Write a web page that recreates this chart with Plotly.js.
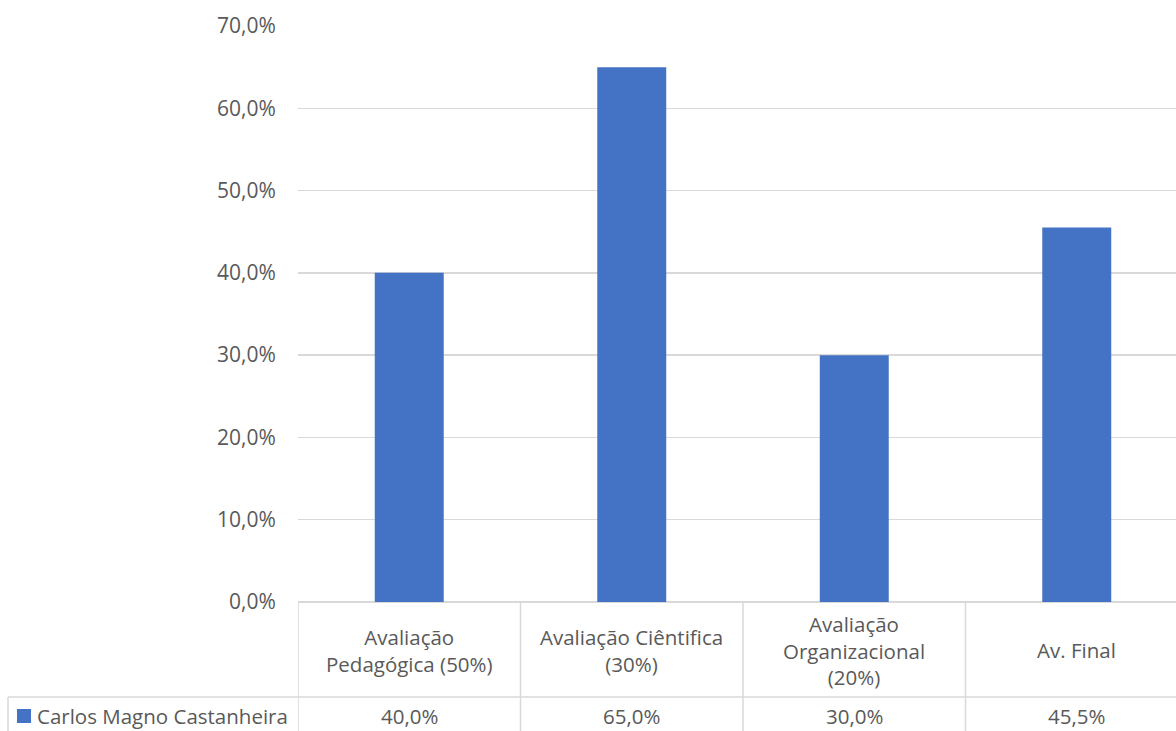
<!DOCTYPE html>
<html><head><meta charset="utf-8">
<script src="https://cdn.plot.ly/plotly-3.0.1.min.js"></script>
<style>html,body{margin:0;padding:0;overflow:hidden;background:#fff}</style>
</head><body><div id="chart"></div>
<script>
const categories = ["Avaliação<br>Pedagógica (50%)", "Avaliação Ciêntifica<br>(30%)", "Avaliação<br>Organizacional<br>(20%)", "Av. Final"];
const seriesName = "Carlos Magno Castanheira";
const values = [0.40, 0.65, 0.30, 0.455];
const tickVals = [0, 0.1, 0.2, 0.3, 0.4, 0.5, 0.6, 0.7];
const tickText = ["0,0%", "10,0%", "20,0%", "30,0%", "40,0%", "50,0%", "60,0%", "70,0%"];
const valueLabels = ["40,0%", "65,0%", "30,0%", "45,5%"];

const W = 1188, H = 731, L = 298, T = 26, B = 129;
const pw = W - L, ph = H - T - B;
const py = px => (H - B - px) / ph;          // pixel y -> paper y
const pxX = px => (px - L) / pw;            // pixel x -> paper x
const font = "Open Sans, Noto Sans, sans-serif";
const grey = "#595959", lineC = "#d9d9d9", blue = "#4472c4";
const idx = categories.map((c, i) => i);
const fs = 20.5;

const shapes = [];
for (let i = 0; i <= categories.length; i++) {
  shapes.push({type: "line", xref: "x", yref: "paper", x0: i - 0.5, x1: i - 0.5, y0: 0, y1: py(H + 5), line: {color: lineC, width: 1.5}});
}
shapes.push({type: "line", xref: "paper", yref: "paper", x0: pxX(8), x1: 1, y0: py(697), y1: py(697), line: {color: lineC, width: 1.5}});
shapes.push({type: "line", xref: "paper", yref: "paper", x0: pxX(8), x1: pxX(8), y0: py(697), y1: py(H + 5), line: {color: lineC, width: 1.5}});
shapes.push({type: "rect", xref: "paper", yref: "paper", x0: pxX(17), x1: pxX(31), y0: py(709), y1: py(723), fillcolor: blue, line: {width: 0}});

const annotations = [];
categories.forEach((c, i) => {
  annotations.push({x: i, xref: "x", y: py(650), yref: "paper", text: c, showarrow: false, align: "center", font: {family: font, size: fs, color: grey}, yanchor: "middle"});
  annotations.push({x: i, xref: "x", y: py(716), yref: "paper", text: valueLabels[i], showarrow: false, font: {family: font, size: fs, color: grey}, yanchor: "middle"});
});
annotations.push({x: pxX(35), xref: "paper", y: py(716), yref: "paper", text: seriesName, showarrow: false, xanchor: "left", yanchor: "middle", font: {family: font, size: fs, color: grey}});

Plotly.newPlot("chart", [{
  type: "bar", x: idx, y: values, name: seriesName, marker: {color: blue}, hoverinfo: "skip"
}], {
  width: W, height: H,
  margin: {l: L, r: 0, t: T, b: B, pad: 0},
  paper_bgcolor: "#fff", plot_bgcolor: "#fff",
  showlegend: false, bargap: 0.69,
  xaxis: {range: [-0.5, categories.length - 0.5], showticklabels: false, ticks: "", showgrid: false, zeroline: false, showline: false, fixedrange: true},
  yaxis: {range: [0, 0.7], tickvals: tickVals, ticktext: tickText, showgrid: true, gridcolor: lineC, gridwidth: 1.5, zeroline: true, zerolinecolor: lineC, zerolinewidth: 1.5,
          ticks: "outside", ticklen: 17, tickcolor: "rgba(0,0,0,0)", tickfont: {family: font, size: 21, color: grey}, showline: false},
  shapes: shapes, annotations: annotations
}, {displayModeBar: false, staticPlot: true});
</script></body></html>
